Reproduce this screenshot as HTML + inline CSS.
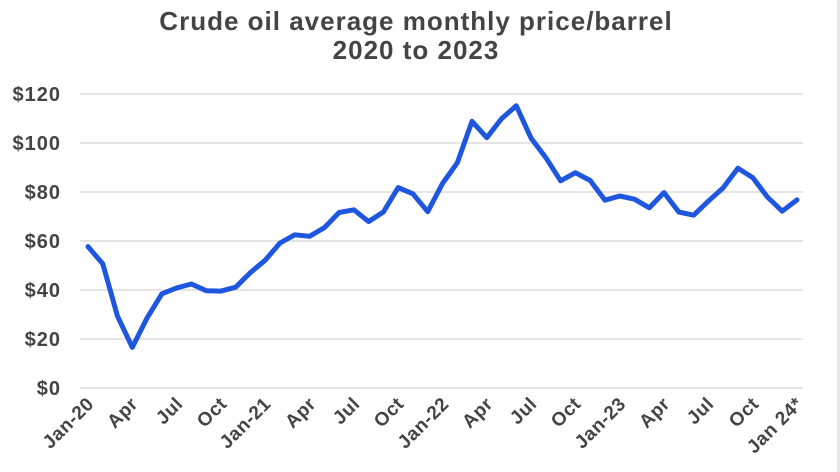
<!DOCTYPE html>
<html><head><meta charset="utf-8"><style>
html,body{margin:0;padding:0;background:#fff;}
svg{display:block;font-family:"Liberation Sans",sans-serif;}
</style></head><body>
<svg width="840" height="472" viewBox="0 0 840 472" xmlns="http://www.w3.org/2000/svg">
<rect width="840" height="472" fill="#fff"/>
<rect x="837" y="0" width="3" height="472" fill="#e6e6e6"/>
<text x="416" y="30" text-anchor="middle" font-size="26" font-weight="bold" fill="#444" letter-spacing="1">Crude oil average monthly price/barrel</text>
<text x="416" y="59" text-anchor="middle" font-size="26" font-weight="bold" fill="#444" letter-spacing="1">2020 to 2023</text>
<g stroke="#dcdcdc" stroke-width="1.5">
<line x1="80" x2="803" y1="94" y2="94"/><line x1="80" x2="803" y1="143" y2="143"/><line x1="80" x2="803" y1="192" y2="192"/><line x1="80" x2="803" y1="241" y2="241"/><line x1="80" x2="803" y1="290" y2="290"/><line x1="80" x2="803" y1="339" y2="339"/><line x1="80" x2="803" y1="388" y2="388"/>
</g>
<g font-size="20" font-weight="bold" fill="#444" text-anchor="end" letter-spacing="1">
<text x="61" y="101">$120</text><text x="61" y="150">$100</text><text x="61" y="199">$80</text><text x="61" y="248">$60</text><text x="61" y="297">$40</text><text x="61" y="346">$20</text><text x="61" y="395">$0</text>
</g>
<polyline fill="none" stroke="#1f56e0" stroke-width="5" stroke-linejoin="round" stroke-linecap="round" points="88,246.6 102.8,263.9 117.5,316.2 132.3,347.4 147.1,317.9 161.9,293.8 176.6,287.9 191.4,284 206.2,290.7 220.9,291.1 235.7,287.2 250.5,272.5 265.2,260.2 280,243 294.8,234.8 309.6,236.3 324.3,227.7 339.1,212.5 353.9,209.8 368.6,221.6 383.4,212 398.2,187.6 412.9,193.8 427.7,211.7 442.5,183.5 457.3,162.8 472,121.3 486.8,137.7 501.6,118.6 516.3,105.8 531.1,138.2 545.9,157.7 560.6,180.8 575.4,172.7 590.2,180.5 605,200.2 619.7,196 634.5,199.2 649.3,207.8 664,192.6 678.8,212 693.6,215.2 708.3,201.2 723.1,187.9 737.9,168.2 752.7,177.6 767.4,197 782.2,211.2 797,199.9"/>
<g font-size="19" font-weight="bold" fill="#444" text-anchor="end" letter-spacing="0.5">
<text transform="translate(95,405) rotate(-45)">Jan-20</text>
<text transform="translate(139,405) rotate(-45)">Apr</text>
<text transform="translate(184,405) rotate(-45)">Jul</text>
<text transform="translate(228,405) rotate(-45)">Oct</text>
<text transform="translate(272,405) rotate(-45)">Jan-21</text>
<text transform="translate(317,405) rotate(-45)">Apr</text>
<text transform="translate(361,405) rotate(-45)">Jul</text>
<text transform="translate(405,405) rotate(-45)">Oct</text>
<text transform="translate(450,405) rotate(-45)">Jan-22</text>
<text transform="translate(494,405) rotate(-45)">Apr</text>
<text transform="translate(538,405) rotate(-45)">Jul</text>
<text transform="translate(582,405) rotate(-45)">Oct</text>
<text transform="translate(627,405) rotate(-45)">Jan-23</text>
<text transform="translate(671,405) rotate(-45)">Apr</text>
<text transform="translate(715,405) rotate(-45)">Jul</text>
<text transform="translate(760,405) rotate(-45)">Oct</text>
<text transform="translate(804,405) rotate(-45)">Jan 24*</text>
</g>
</svg>
</body></html>
